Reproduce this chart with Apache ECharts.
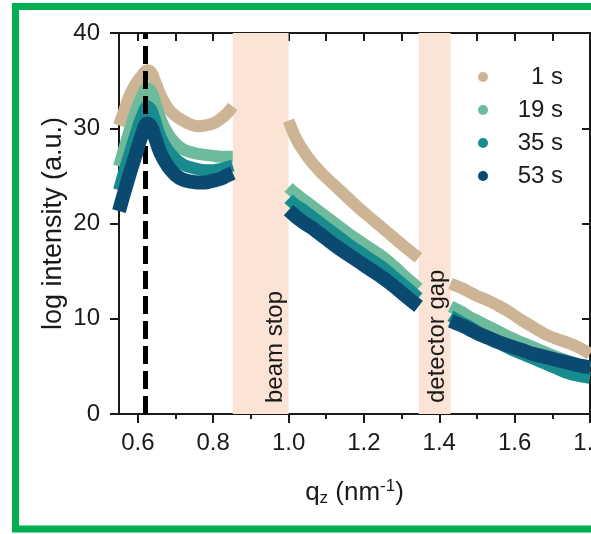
<!DOCTYPE html>
<html>
<head>
<meta charset="utf-8">
<script src="https://cdn.jsdelivr.net/npm/echarts@6/dist/echarts.min.js"></script>
<style>
  html, body { margin: 0; padding: 0; background: #fff; }
  #main { width: 591px; height: 534px; }
</style>
</head>
<body>
<div id="main"></div>
<script>
// q_z grid (nm^-1); null intensities mark the beam stop / detector gap
const qz = [0.55, 0.565, 0.58, 0.595, 0.61, 0.625, 0.635, 0.645, 0.66, 0.68, 0.70, 0.72, 0.74, 0.76, 0.78, 0.80, 0.82, 0.835, 0.852,
    0.93,
    1.0, 1.02, 1.04, 1.06, 1.08, 1.10, 1.13, 1.16, 1.19, 1.22, 1.25, 1.28, 1.31, 1.345,
    1.39,
    1.43, 1.46, 1.48, 1.50, 1.53, 1.56, 1.59, 1.62, 1.65, 1.68, 1.71, 1.74, 1.77, 1.80];

const int1s = [30.3, 32.0, 33.6, 34.7, 35.5, 36.1, 35.9, 35.0, 33.5, 32.1, 31.3, 30.8, 30.4, 30.2, 30.3, 30.5, 31.0, 31.5, 32.3,
    null,
    30.8, 28.9, 27.6, 26.5, 25.6, 24.8, 23.7, 22.6, 21.5, 20.5, 19.5, 18.5, 17.5, 16.4,
    null,
    13.7, 13.2, 12.8, 12.4, 11.9, 11.3, 10.6, 9.8, 9.1, 8.4, 7.9, 7.5, 7.0, 6.3];

const int19s = [26.0, 28.0, 30.0, 31.8, 33.3, 34.2, 33.9, 32.8, 31.0, 29.4, 28.4, 27.8, 27.5, 27.3, 27.2, 27.1, 27.0, 27.0, 27.0,
    null,
    23.8, 23.1, 22.5, 21.9, 21.3, 20.7, 19.8, 18.9, 18.1, 17.3, 16.5, 15.5, 14.4, 13.2,
    null,
    11.3, 10.7, 10.2, 9.8, 9.2, 8.6, 8.0, 7.5, 7.0, 6.5, 6.0, 5.6, 5.2, 4.8];

const int35s = [23.5, 25.6, 27.6, 29.5, 31.2, 32.3, 32.0, 30.9, 29.1, 27.7, 26.8, 26.2, 25.9, 25.7, 25.6, 25.6, 25.7, 25.9, 26.1,
    null,
    22.6, 21.9, 21.4, 20.8, 20.2, 19.6, 18.7, 17.8, 17.0, 16.2, 15.4, 14.4, 13.4, 12.2,
    null,
    10.3, 9.6, 9.2, 8.7, 8.1, 7.4, 6.8, 6.3, 5.8, 5.3, 4.8, 4.3, 4.0, 3.8];

const int53s = [21.3, 23.4, 25.4, 27.3, 29.2, 30.5, 30.2, 29.1, 27.4, 26.0, 25.1, 24.6, 24.4, 24.3, 24.3, 24.5, 24.7, 25.0, 25.3,
    null,
    21.4, 20.7, 20.1, 19.6, 19.0, 18.4, 17.5, 16.7, 15.9, 15.1, 14.3, 13.4, 12.4, 11.3,
    null,
    9.8, 9.3, 8.9, 8.5, 8.0, 7.5, 7.1, 6.7, 6.3, 6.0, 5.7, 5.4, 5.1, 4.9];

const seriesNames = ["1 s", "19 s", "35 s", "53 s"];
const seriesColors = ["#cdb495", "#6dbb9c", "#178b8d", "#0b4a70"];

const majorTicks = [0.6, 0.8, 1.0, 1.2, 1.4, 1.6, 1.8];
const minorTicks = [0.7, 0.9, 1.1, 1.3, 1.5, 1.7];
const topTicks = [0.6, 0.7, 0.8, 0.9, 1.0, 1.1, 1.2, 1.3, 1.4, 1.5, 1.6, 1.7];

const beamStop = [0.852, 1.0];
const detectorGap = [1.345, 1.43];
const braggPeak = 0.616;

const mainEl = document.getElementById("main");
let charts = echarts.init(mainEl);

const toPairs = (vals) => qz.map((q, i) => [q, vals[i] == null ? '-' : vals[i]]);
const allValues = [int1s, int19s, int35s, int53s];
const widths = [12, 12, 12, 14];

const font = "Liberation Sans, Arial, sans-serif";
const ink = "#1a1a1a";

let series = seriesNames.map((name, i) => ({
    name: name,
    type: "line",
    xAxisIndex: 0,
    yAxisIndex: 0,
    data: toPairs(allValues[i]),
    showSymbol: false,
    symbol: "circle",
    smooth: 0.35,
    connectNulls: false,
    color: seriesColors[i],
    lineStyle: { width: widths[i], color: seriesColors[i], join: "round" },
    z: 2 + i,
    animation: false
}));

// bands + dashed peak marker drawn above the curves
series.push({
    type: "line",
    xAxisIndex: 0,
    yAxisIndex: 0,
    data: [],
    z: 10,
    silent: true,
    animation: false,
    markArea: {
        silent: true,
        itemStyle: { color: "#fbe4d6" },
        data: [
            [{ xAxis: beamStop[0] }, { xAxis: beamStop[1] }],
            [{ xAxis: detectorGap[0] }, { xAxis: detectorGap[1] }]
        ]
    },
    markLine: {
        silent: true,
        symbol: "none",
        label: { show: false },
        lineStyle: { color: "#000", width: 5, type: [18, 7] },
        data: [{ xAxis: braggPeak }]
    }
});

const option = {
    animation: false,
    grid: { left: 119, top: 33, right: 1, bottom: 120, containLabel: false, outerBoundsMode: "none" },
    legend: {
        orient: "vertical",
        left: 473,
        top: 60,
        icon: "circle",
        itemWidth: 10,
        itemHeight: 10,
        itemGap: 9,
        data: seriesNames,
        formatter: (n) => "{t|" + n + "}",
        textStyle: {
            rich: {
                t: { width: 70, align: "right", fontSize: 24, lineHeight: 24, fontFamily: font, color: ink }
            }
        }
    },
    xAxis: [
        {
            type: "value",
            position: "bottom",
            min: 0.55,
            max: 1.8,
            axisLine: { show: true, lineStyle: { color: ink, width: 2 } },
            axisTick: { show: true, customValues: majorTicks, length: 9, lineStyle: { color: ink, width: 2 } },
            axisLabel: {
                customValues: majorTicks,
                margin: 17,
                fontSize: 24,
                fontFamily: font,
                color: ink,
                formatter: (v) => v.toFixed(1)
            },
            splitLine: { show: false },
            name: "{a|q}{s|z}{a| (nm}{p|-1}{a|)}",
            nameLocation: "middle",
            nameGap: 64,
            nameMoveOverlap: false,
            nameTextStyle: {
                rich: {
                    a: { fontSize: 26, fontFamily: font, color: ink },
                    s: { fontSize: 17, fontFamily: font, color: ink, padding: [12, 0, 0, 0] },
                    p: { fontSize: 17, fontFamily: font, color: ink, padding: [0, 0, 12, 0] }
                }
            }
        },
        {
            type: "value",
            position: "bottom",
            min: 0.55,
            max: 1.8,
            axisLine: { show: false },
            axisTick: { show: true, customValues: minorTicks, length: 5, lineStyle: { color: ink, width: 2 } },
            axisLabel: { show: false },
            splitLine: { show: false }
        },
        {
            type: "value",
            position: "top",
            min: 0.55,
            max: 1.8,
            axisLine: { show: true, lineStyle: { color: ink, width: 2 } },
            axisTick: { show: true, inside: true, customValues: topTicks, length: 8, lineStyle: { color: ink, width: 2 } },
            axisLabel: { show: false },
            splitLine: { show: false }
        }
    ],
    yAxis: [
        {
            type: "value",
            position: "left",
            min: 0,
            max: 40,
            interval: 10,
            axisLine: { show: true, lineStyle: { color: ink, width: 2 } },
            axisTick: { show: true, length: 9, lineStyle: { color: ink, width: 2 } },
            axisLabel: { margin: 19, fontSize: 24, fontFamily: font, color: ink },
            splitLine: { show: false },
            name: "log intensity (a.u.)",
            nameLocation: "middle",
            nameGap: 52,
            nameMoveOverlap: false,
            nameTextStyle: { fontSize: 27, fontFamily: font, color: ink }
        },
        {
            type: "value",
            position: "right",
            min: 0,
            max: 40,
            interval: 10,
            axisLine: { show: true, lineStyle: { color: ink, width: 2 } },
            axisTick: { show: true, inside: true, length: 8, lineStyle: { color: ink, width: 2 } },
            axisLabel: { show: false },
            splitLine: { show: false }
        }
    ],
    graphic: [
        {
            type: "rect",
            shape: { x: 15.5, y: 6.5, width: 640, height: 522.5 },
            style: { fill: "none", stroke: "#00b050", lineWidth: 7 },
            silent: true,
            z: 100
        },
        {
            type: "text",
            x: 275,
            y: 403,
            rotation: Math.PI / 2,
            style: { text: "beam stop", fontSize: 24, fontFamily: font, fill: ink, textAlign: "left", textVerticalAlign: "middle" },
            z: 100
        },
        {
            type: "text",
            x: 437,
            y: 403,
            rotation: Math.PI / 2,
            style: { text: "detector gap", fontSize: 24, fontFamily: font, fill: ink, textAlign: "left", textVerticalAlign: "middle" },
            z: 100
        }
    ],
    series: series
};

charts.setOption(option);
</script>
</body>
</html>
